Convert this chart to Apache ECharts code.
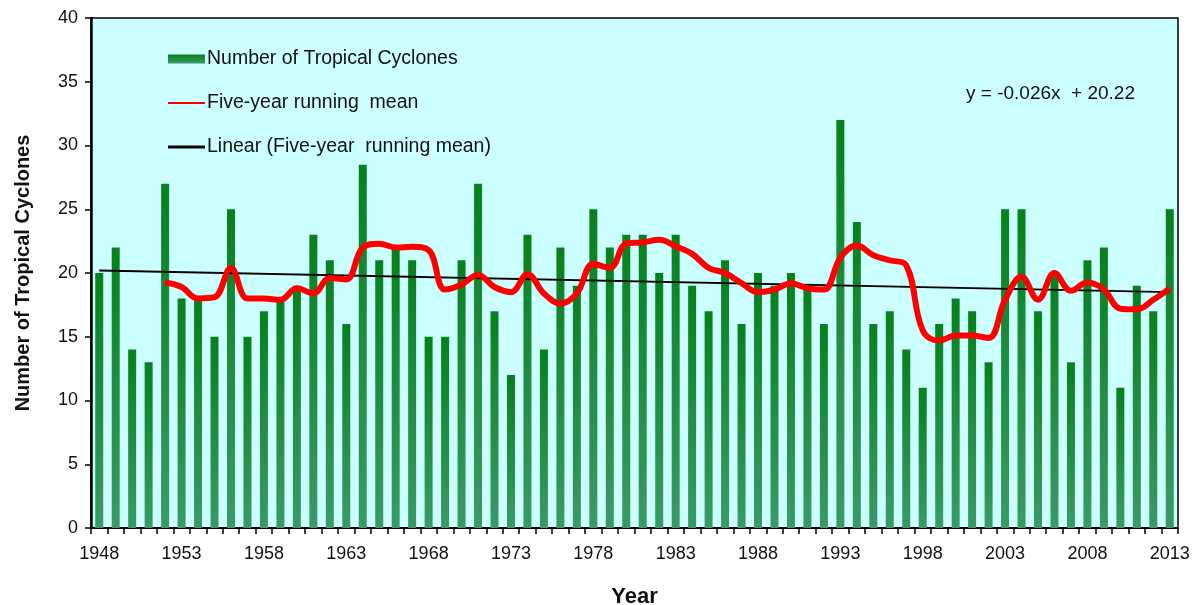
<!DOCTYPE html>
<html>
<head>
<meta charset="utf-8">
<script src="https://cdn.jsdelivr.net/npm/echarts@6/dist/echarts.min.js"></script>
<style>
html,body{margin:0;padding:0;background:#fff;}
#c{width:1200px;height:605px;}
</style>
</head>
<body>
<div id="c"></div>
<script>
const years = [];
for (let y = 1948; y <= 2013; y++) years.push(String(y));

const cyclones = [20,22,14,13,27,18,18,15,25,15,17,18,19,23,21,16,28.5,
  21,22,21,15,15,21,27,17,12,23,14,22,19,25,22,23,
  23,20,23,19,17,21,16,20,19,20,19,16,32,24,16,17,14,
  11,16,18,17,13,25,25,17,20,13,21,22,11,19,17,25];

const runningMean = [null,null,null,null,19.25,18.9,18.0,18.1,20.4,18.0,18.0,17.9,18.8,18.4,19.6,19.5,22.0,
  22.3,22.0,22.05,21.8,18.7,19.1,19.85,18.9,18.5,19.9,18.4,17.6,18.4,20.7,20.4,22.3,
  22.4,22.6,22.1,21.5,20.4,20.0,19.2,18.5,18.7,19.2,18.8,18.7,21.2,22.15,21.4,21.0,20.6,
  15.5,14.7,15.1,15.1,14.9,17.9,19.7,17.9,20.0,18.6,19.25,18.7,17.2,17.15,17.9,18.8];

const trendStart = 20.2;   // 1948
const trendEnd = 18.5;     // 2013
const trend = years.map((y, i) => i === 0 ? trendStart : (i === years.length - 1 ? trendEnd : null));

const equationText = 'y = -0.026x  + 20.22';
const yTicks = [0, 5, 10, 15, 20, 25, 30, 35, 40];

const chart = echarts.init(document.getElementById('c'), null, {renderer: 'canvas'});
const font = 'Arial, "Liberation Sans", sans-serif';

chart.setOption({
  animation: false,
  backgroundColor: '#ffffff',
  grid: {
    left: 91, right: 22, top: 18, bottom: 77,
    containLabel: false,
    outerBoundsMode: 'none',
    show: true, backgroundColor: '#CCFFFF', borderColor: '#000', borderWidth: 1.5
  },
  legend: {
    orient: 'vertical',
    left: 163, top: 44,
    itemWidth: 37, itemHeight: 9,
    itemGap: 24,
    textStyle: {fontFamily: font, fontSize: 19.5, color: '#111', padding: [0,0,0,-3]},
    data: [
      {name: 'Number of Tropical Cyclones', icon: 'rect'},
      {name: 'Five-year running  mean', icon: 'path://M0,0 L74,0 L74,4 L0,4 Z'},
      {name: 'Linear (Five-year  running mean)', icon: 'path://M0,0 L74,0 L74,6 L0,6 Z'}
    ]
  },
  graphic: [
    {type: 'text', left: 966, top: 84,
     style: {text: equationText, font: '19px ' + font, fill: '#111'}}
  ],
  xAxis: {
    type: 'category',
    data: years,
    boundaryGap: true,
    name: 'Year',
    nameLocation: 'middle',
    nameGap: 58,
    nameTextStyle: {fontFamily: font, fontSize: 22, fontWeight: 'bold', color: '#111'},
    axisLine: {lineStyle: {color: '#000', width: 2}},
    axisTick: {show: true, interval: 0, length: 6, lineStyle: {color: '#000', width: 1.5}},
    axisLabel: {interval: 4, margin: 17, fontFamily: font, fontSize: 18, color: '#111'},
    splitLine: {show: false}
  },
  yAxis: {
    type: 'value',
    min: 0, max: 40, interval: 5,
    name: 'Number of Tropical Cyclones',
    nameLocation: 'middle',
    nameGap: 58,
    nameTextStyle: {fontFamily: font, fontSize: 20, fontWeight: 'bold', color: '#111'},
    axisLine: {show: true, lineStyle: {color: '#000', width: 2.5}},
    axisTick: {show: true, length: 6, lineStyle: {color: '#000', width: 1.5}},
    axisLabel: {margin: 13, fontFamily: font, fontSize: 18, color: '#111',
      formatter: v => yTicks.includes(v) ? String(v) : ''},
    splitLine: {show: false}
  },
  series: [
    {
      name: 'Number of Tropical Cyclones',
      type: 'bar',
      data: cyclones,
      barWidth: 8,
      itemStyle: {
        color: new echarts.graphic.LinearGradient(0, 0, 0, 1, [
          {offset: 0, color: '#07801c'},
          {offset: 1, color: '#3a9a68'}
        ])
      },
      z: 2
    },
    {
      name: 'Five-year running  mean',
      type: 'line',
      data: runningMean,
      smooth: 0.4,
      symbol: 'none',
      connectNulls: false,
      lineStyle: {color: '#ff0000', width: 6},
      itemStyle: {color: '#ff0000'},
      z: 4
    },
    {
      name: 'Linear (Five-year  running mean)',
      type: 'line',
      data: trend,
      connectNulls: true,
      symbol: 'none',
      lineStyle: {color: '#000000', width: 2},
      itemStyle: {color: '#000000'},
      z: 3
    }
  ]
});
</script>
</body>
</html>
